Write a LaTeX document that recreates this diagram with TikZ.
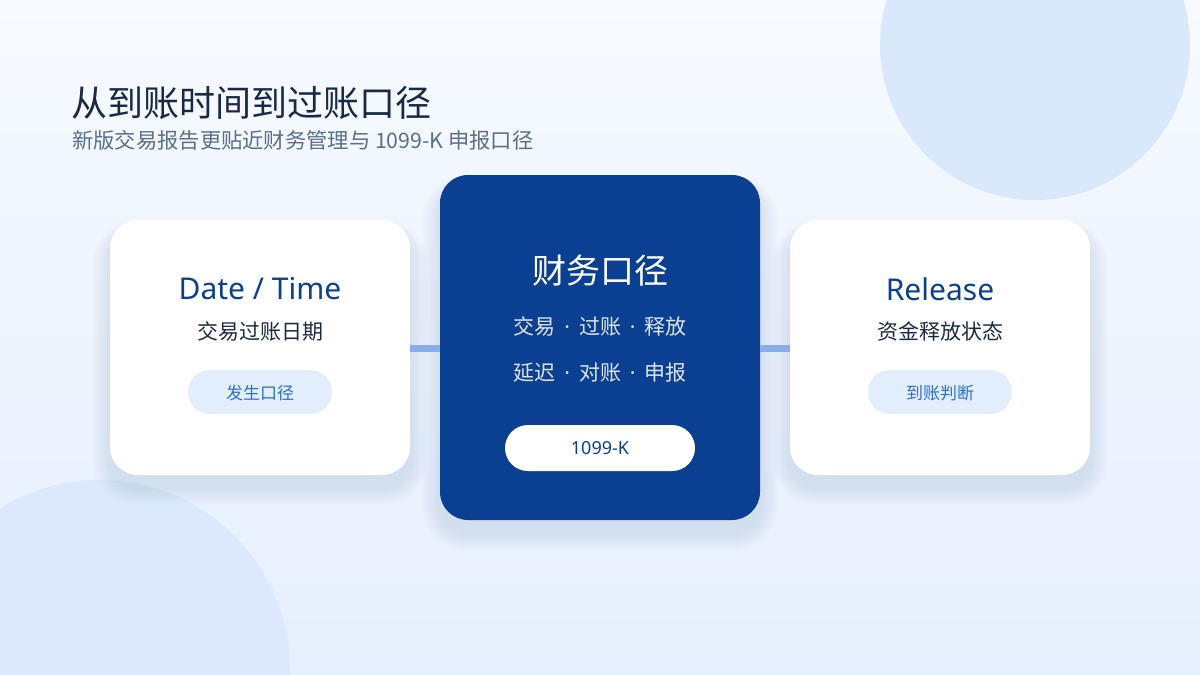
\documentclass[tikz,border=0pt]{standalone}
\usepackage{fontspec}
\setmainfont{Noto Sans CJK SC}
\newfontfamily\latinf{Noto Sans}
\definecolor{navy}{HTML}{0B3F91}
\definecolor{ink}{HTML}{1B2A44}
\definecolor{sub}{HTML}{5B6F8A}
\definecolor{circ}{HTML}{DAE8FC}
\definecolor{bgtop}{HTML}{F7FAFF}
\definecolor{bgbot}{HTML}{E5EFFD}
\definecolor{pillbg}{HTML}{E3EEFD}
\definecolor{pilltx}{HTML}{2A6FD6}
\definecolor{conn}{HTML}{86AEEA}
\definecolor{lt}{HTML}{DCE6F7}
\definecolor{shad}{HTML}{6A84B0}
\newcommand{\fs}[1]{\fontsize{#1}{#1}\selectfont}
\newcommand{\dt}{{\latinf\ \,·\,\ }}
\newcommand{\shadowbox}[4]{%
  \foreach \k in {1,...,8}{
    \fill[shad, opacity=0.018, rounded corners=28pt+\k*2pt]
      ($(#1-\k*2.2,#2-\k*1.5+12)$) rectangle ($(#3+\k*2.2,#4+\k*2.2+12)$);
  }}
\usetikzlibrary{calc}
\tikzset{
 card/.style={rounded corners=28pt, draw=none},
 pill/.style={rounded corners=22pt, fill=pillbg},
 connector/.style={conn, line width=7pt}
}
\begin{document}
\begin{tikzpicture}[x=1pt,y=-1pt]
\useasboundingbox (0,0) rectangle (1200,675);
\shade[top color=bgtop, bottom color=bgbot] (0,0) rectangle (1200,675);
\begin{scope}
\clip (0,0) rectangle (1200,675);
\fill[circ] (1035,45) circle (155);
\fill[circ!80!bgbot] (100,670) circle (190);
\end{scope}
\node[anchor=west, text=ink, inner sep=0] (title) at (71,103) {\fs{36}从到账时间到过账口径};
\node[anchor=west, text=sub, inner sep=0] (subtitle) at (72,140) {\fs{21.3}新版交易报告更贴近财务管理与 1099-K 申报口径};
% shadows
\shadowbox{110}{220}{410}{475}
\shadowbox{440}{175}{760}{520}
\shadowbox{790}{220}{1090}{475}
% cards
\fill[card, fill=white] (110,220) rectangle (410,475);
\fill[card, fill=navy] (440,175) rectangle (760,520);
\fill[card, fill=white] (790,220) rectangle (1090,475);
\coordinate (l1) at (410,348); \coordinate (m1) at (440,348);
\coordinate (m2) at (760,348); \coordinate (r1) at (790,348);
\draw[connector] (l1) -- (m1);
\draw[connector] (m2) -- (r1);
% left
\node[text=navy] (lt) at (260,289) {\fs{30}\latinf Date / Time};
\node[text=ink] (ls) at (260,331) {\fs{21}交易过账日期};
\fill[pill] (188,370) rectangle (332,414);
\node[text=pilltx] (lp) at (260,393) {\fs{17}发生口径};
% middle
\node[text=white] (mt) at (600,271) {\fs{34}财务口径};
\node[text=lt] (m1t) at (600,326) {\fs{21}交易\dt 过账\dt 释放};
\node[text=lt] (m2t) at (600,373) {\fs{21}延迟\dt 对账\dt 申报};
\fill[white, rounded corners=23pt] (505,425) rectangle (695,471);
\node[text=navy] (mp) at (600,448) {\fs{18}\latinf 1099-K};
% right
\node[text=navy] (rt) at (940,289) {\fs{30}\latinf Release};
\node[text=ink] (rs) at (940,331) {\fs{21}资金释放状态};
\fill[pill] (868,370) rectangle (1012,414);
\node[text=pilltx] (rp) at (940,393) {\fs{17}到账判断};
\end{tikzpicture}
\end{document}
